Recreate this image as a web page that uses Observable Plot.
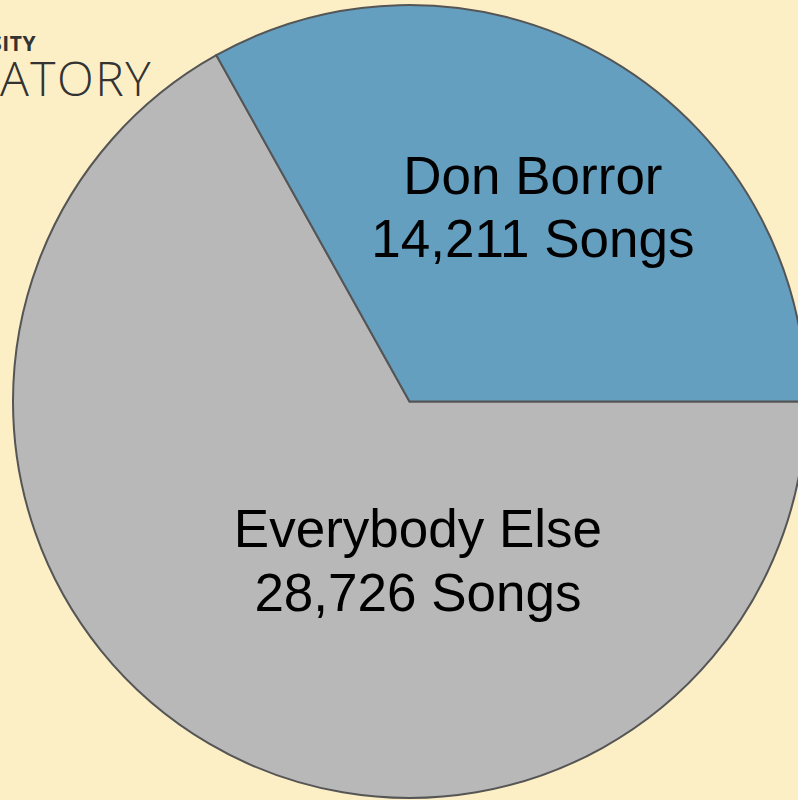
<!DOCTYPE html>
<html>
<head>
<meta charset="utf-8">
<script src="https://cdn.jsdelivr.net/npm/d3@7"></script>
<script src="https://cdn.jsdelivr.net/npm/@observablehq/plot@0.6"></script>
<style>
  html, body { margin: 0; padding: 0; background: #fcefc5; overflow: hidden; }
  #wrap { position: relative; width: 798px; height: 800px; }
  #logo { position: absolute; left: 0; top: 0; }
  #chart { position: absolute; left: 0; top: 0; }
</style>
</head>
<body>
<div id="wrap">
  <svg id="logo" width="798" height="800">
    <text x="36" y="51" text-anchor="end" font-family="'Open Sans', Lato, sans-serif" font-weight="700" font-size="21" letter-spacing="0.5" fill="#333">UNIVERSITY</text>
    <text x="152" y="96" text-anchor="end" font-family="'Open Sans', Lato, sans-serif" font-weight="300" font-size="48" letter-spacing="1.5" fill="#333">LABORATORY</text>
  </svg>
  <div id="chart"></div>
</div>
<script>
// Data
const categories = ["Everybody Else", "Don Borror"];
const songs = [28726, 14211];
const sliceColors = ["#b8b8b8", "#659fc0"];

const table = categories.map((c, i) => ({category: c, songs: songs[i], color: sliceColors[i]}));

// Pie layout (angles clockwise from 12 o'clock); the blue slice ends at 3 o'clock
const pie = d3.pie().value(d => d.songs).sort(null)
  .startAngle(Math.PI / 2).endAngle(Math.PI / 2 + 2 * Math.PI);
const arcs = pie(table);

// label anchor positions in unit-circle coordinates (layout)
const labelPos = {"Everybody Else": [0.02, -0.395], "Don Borror": [0.31, 0.497]};
const fmt = d3.format(",");
const labelData = table.map(d => ({
  x: labelPos[d.category][0],
  y: labelPos[d.category][1],
  text: `${d.category}\n${fmt(d.songs)} Songs`
}));

function wedges(index, scales) {
  const cx = scales.x(0), cy = scales.y(0);
  const r = scales.x(1) - scales.x(0);
  const arc = d3.arc().innerRadius(0).outerRadius(r);
  const g = d3.create("svg:g").attr("transform", `translate(${cx},${cy})`);
  g.selectAll("path").data(arcs).join("path")
    .attr("d", arc)
    .attr("fill", d => d.data.color)
    .attr("stroke", "#555")
    .attr("stroke-width", 2)
    .attr("stroke-linejoin", "miter");
  return g.node();
}

const chart = Plot.plot({
  width: 798,
  height: 800,
  margin: 0,
  style: {background: "transparent", overflow: "visible"},
  x: {domain: [-1, 1], range: [13, 806], axis: null},
  y: {domain: [-1, 1], range: [798, 5], axis: null},
  marks: [
    wedges,
    Plot.text(labelData, {
      x: "x", y: "y", text: "text",
      fontSize: 53,
      lineHeight: 1.2,
      fontFamily: "'Liberation Sans', Arial, sans-serif",
      fill: "#000",
      textAnchor: "middle",
      lineAnchor: "middle"
    })
  ]
});
document.getElementById("chart").appendChild(chart);
</script>
</body>
</html>
